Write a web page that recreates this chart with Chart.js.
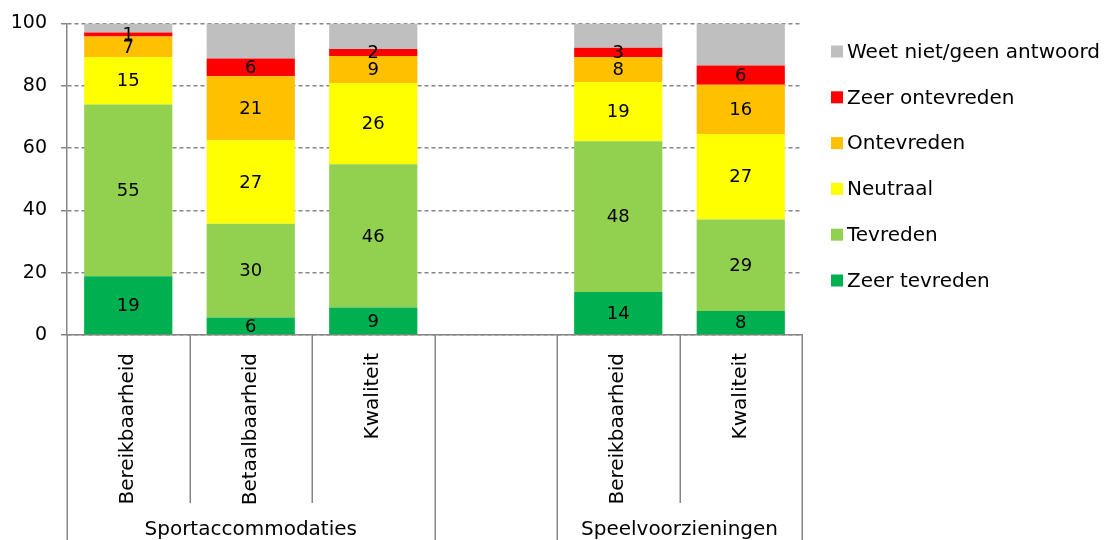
<!DOCTYPE html>
<html><head><meta charset="utf-8">
<script src="https://cdn.jsdelivr.net/npm/chart.js@4"></script>
<style>html,body{margin:0;padding:0;background:#fff}#wrap{width:1116px;height:540px}</style>
</head><body><div id="wrap"><canvas id="c"></canvas></div>
<script>
const categories = ['Bereikbaarheid', 'Betaalbaarheid', 'Kwaliteit', '', 'Bereikbaarheid', 'Kwaliteit'];
const groupNames = ['Sportaccommodaties', '', 'Speelvoorzieningen'];
const groupStarts = [0, 3, 4];
const groupEnds = [2, 3, 5];
const seriesNames = ['Zeer tevreden', 'Tevreden', 'Neutraal', 'Ontevreden', 'Zeer ontevreden', 'Weet niet/geen antwoord'];
const seriesColors = ['#00B050', '#92D050', '#FFFF00', '#FFC000', '#FF0000', '#BFBFBF'];
const zeerTevreden   = [18.9,  5.6,  8.8, null, 13.8,  7.7];
const tevreden       = [55.1, 30.1, 46.0, null, 48.4, 29.4];
const neutraal       = [15.2, 26.8, 26.1, null, 19.0, 27.4];
const ontevreden     = [ 6.6, 20.6,  8.7, null,  8.0, 15.8];
const zeerOntevreden = [ 1.3,  5.7,  2.2, null,  3.0,  6.2];
const weetNiet       = [ 2.9, 11.2,  8.2, null,  7.8, 13.5];
const seriesValues = [zeerTevreden, tevreden, neutraal, ontevreden, zeerOntevreden, weetNiet];
const labelledSeries = [true, true, true, true, true, false];
const yMin = 0, yMax = 100, yStep = 20;

const FONT = '"DejaVu Sans", Verdana, sans-serif';
const AXIS_COLOR = '#868686';

const datasets = seriesNames.map((name, i) => ({
  label: name,
  data: seriesValues[i],
  backgroundColor: seriesColors[i],
  borderWidth: 0,
  barPercentage: 0.72,
  categoryPercentage: 1.0
}));

const valueLabels = {
  id: 'valueLabels',
  afterDatasetsDraw(chart) {
    const ctx = chart.ctx;
    ctx.save();
    ctx.font = '18px ' + FONT;
    ctx.fillStyle = '#000';
    ctx.textAlign = 'center';
    ctx.textBaseline = 'middle';
    chart.data.datasets.forEach((ds, di) => {
      if (!labelledSeries[di]) return;
      const meta = chart.getDatasetMeta(di);
      meta.data.forEach((el, i) => {
        const v = ds.data[i];
        if (v === null || v === undefined) return;
        ctx.fillText(String(Math.round(v)), el.x, (el.y + el.base) / 2 + 1);
      });
    });
    ctx.restore();
  }
};

const multiLevelAxis = {
  id: 'multiLevelAxis',
  afterDraw(chart) {
    const ctx = chart.ctx;
    const xs = chart.scales.x;
    const n = categories.length;
    const step = (xs.right - xs.left) / n;
    const bottom = chart.height;
    const groupBounds = new Set();
    groupStarts.forEach(s => groupBounds.add(s));
    groupEnds.forEach(e => groupBounds.add(e + 1));
    ctx.save();
    ctx.strokeStyle = AXIS_COLOR;
    ctx.lineWidth = 1.5;
    for (let i = 0; i <= n; i++) {
      const x = Math.round(xs.left + i * step) + 0.25;
      const yEnd = groupBounds.has(i) ? bottom : 503;
      ctx.beginPath();
      ctx.moveTo(x, xs.top);
      ctx.lineTo(x, yEnd);
      ctx.stroke();
    }
    ctx.font = '20px ' + FONT;
    ctx.fillStyle = '#000';
    ctx.textAlign = 'center';
    ctx.textBaseline = 'middle';
    groupNames.forEach((g, gi) => {
      if (!g) return;
      const x0 = xs.left + groupStarts[gi] * step;
      const x1 = xs.left + (groupEnds[gi] + 1) * step;
      ctx.fillText(g, (x0 + x1) / 2, 530);
    });
    ctx.restore();
  }
};

const sideLegend = {
  id: 'sideLegend',
  afterDraw(chart) {
    const ctx = chart.ctx;
    const x0 = chart.chartArea.right + 29;
    ctx.save();
    ctx.font = '20px ' + FONT;
    ctx.textAlign = 'left';
    ctx.textBaseline = 'middle';
    const items = chart.data.datasets.slice().reverse();
    items.forEach((ds, k) => {
      const y = 51.5 + k * 45.8;
      ctx.fillStyle = ds.backgroundColor;
      ctx.fillRect(x0, y - 6, 12, 12);
      ctx.fillStyle = '#000';
      ctx.fillText(ds.label, x0 + 16, y + 1);
    });
    ctx.restore();
  }
};

new Chart(document.getElementById('c'), {
  type: 'bar',
  data: { labels: categories, datasets },
  plugins: [valueLabels, multiLevelAxis, sideLegend],
  options: {
    responsive: true,
    maintainAspectRatio: false,
    animation: false,
    layout: { padding: { left: 0, right: 314, top: 0, bottom: 0 } },
    plugins: { legend: { display: false }, tooltip: { enabled: false } },
    scales: {
      x: {
        stacked: true,
        grid: { display: false },
        border: { display: true, color: AXIS_COLOR, width: 1.5 },
        ticks: {
          color: '#000', font: { family: FONT, size: 20 },
          minRotation: 90, maxRotation: 90, autoSkip: false, padding: 10
        },
        afterFit(s) { s.height = 205; }
      },
      y: {
        stacked: true,
        min: yMin, max: yMax,
        grid: { color: AXIS_COLOR, lineWidth: 1.5, tickLength: 6, tickBorderDash: [] },
        border: { display: true, color: AXIS_COLOR, width: 1.5, dash: [4, 3] },
        ticks: {
          stepSize: yStep, color: '#000', font: { family: FONT, size: 19, lineHeight: 1.0 }, padding: 14
        },
        afterFit(s) { s.width = 67; }
      }
    }
  }
});
</script>
</body></html>
